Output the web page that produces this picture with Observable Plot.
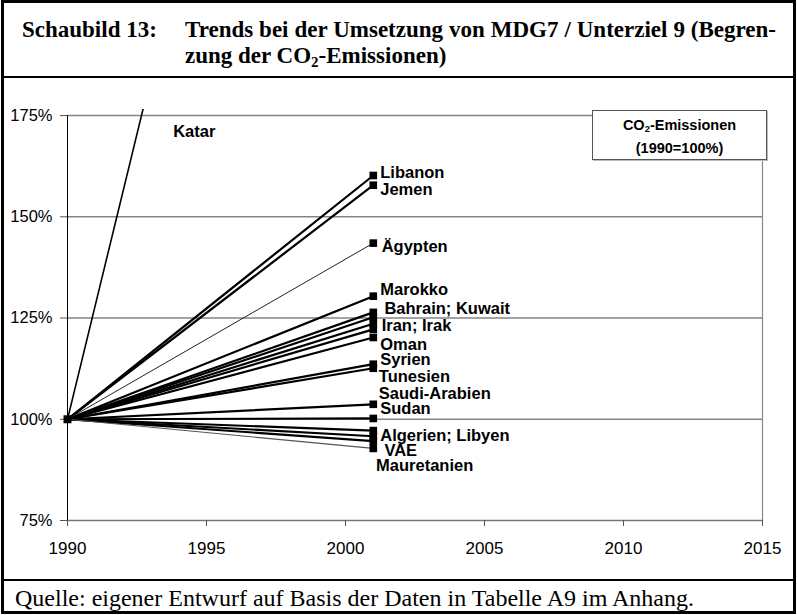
<!DOCTYPE html>
<html><head><meta charset="utf-8">
<script src="https://cdn.jsdelivr.net/npm/d3@7"></script>
<script src="https://cdn.jsdelivr.net/npm/@observablehq/plot@0.6"></script>
<style>
html,body{margin:0;padding:0;background:#fff;}
#frame{position:absolute;left:1px;top:0;width:795px;height:614px;box-sizing:border-box;border:3px solid #000;}
.sep{position:absolute;left:0;width:100%;height:0;border-top:2.5px solid #000;}
.title{position:absolute;font-family:"Liberation Serif","Times New Roman",serif;font-weight:bold;font-size:23px;line-height:23px;white-space:nowrap;color:#000;}
.just{text-align:justify;text-align-last:justify;white-space:normal;}
.foot{position:absolute;font-family:"Liberation Serif","Times New Roman",serif;font-size:24px;line-height:24px;white-space:nowrap;color:#000;}
#chart{position:absolute;left:0;top:78px;}
#legend{position:absolute;left:592px;top:110px;width:175px;height:50px;box-sizing:border-box;border:1px solid #555;background:#fff;box-shadow:1px 1px 0 #bbb;
 font-family:"Liberation Sans",Arial,sans-serif;font-weight:bold;font-size:14.5px;text-align:center;line-height:23px;padding-top:3px;}
sub{font-size:0.65em;vertical-align:-0.25em;line-height:0;}
</style></head>
<body>
<div id="chart"></div>
<div id="frame">
  <div class="title" style="left:18px;top:15px;">Schaubild 13:</div>
  <div class="title just" style="left:181px;top:15px;width:591px;">Trends bei der Umsetzung von MDG7 / Unterziel 9 (Begren-</div>
  <div class="title" style="left:181px;top:41px;">zung der CO<sub>2</sub>-Emissionen)</div>
  <div class="sep" style="top:73px;"></div>
  <div class="sep" style="top:576px;"></div>
  <div class="foot" style="left:11px;top:583px;">Quelle: eigener Entwurf auf Basis der Daten in Tabelle A9 im Anhang.</div>
</div>
<div id="legend">CO<sub>2</sub>-Emissionen<br>(1990=100%)</div>
<script>
// ---- data ----
const countries = ["Katar","Libanon","Jemen","Ägypten","Marokko","Bahrain","Kuwait","Iran","Irak","Oman","Syrien","Tunesien","Saudi-Arabien","Sudan","Algerien","Libyen","VAE","Mauretanien"];
const years = [1990, 2001];
const values1990 = [100,100,100,100,100,100,100,100,100,100,100,100,100,100,100,100,100,100];
const values2001 = [410,160.2,157.8,143.5,130.4,126.4,125.2,123.6,122.2,120.2,113.6,112.6,103.7,100.2,97.2,95.8,94.6,92.8];
const labelTexts = ["Katar","Libanon","Jemen","Ägypten","Marokko","Bahrain; Kuwait","Iran; Irak","Oman","Syrien","Tunesien","Saudi-Arabien","Sudan","Algerien; Libyen","VAE","Mauretanien"];
const labelYears = [1993.8,2001.25,2001.25,2001.3,2001.25,2001.4,2001.3,2001.25,2001.25,2001.2,2001.2,2001.25,2001.25,2001.4,2001.1];
const labelValues = [170.9,161.0,156.8,142.7,131.9,127.2,123.0,118.5,114.8,110.4,106.2,102.5,96.0,92.3,88.6];
const yTicks = [75,100,125,150,175];
const xTicks = [1990,1995,2000,2005,2010,2015];
const thinSeries = ["Ägypten","Mauretanien"];

// ---- build tables ----
const rows = [];
countries.forEach((c,i)=>{
  rows.push({country:c, year:years[0], value:values1990[i]});
  rows.push({country:c, year:years[1], value:values2001[i]});
});
const ends = rows.filter(d=>d.year===years[1] && d.country!=="Katar");
const labels = labelTexts.map((t,i)=>({text:t, x:labelYears[i], y:labelValues[i]}));

const font = "'Liberation Sans', Arial, sans-serif";
const chart = Plot.plot({
  width: 797, height: 500,
  marginLeft: 67, marginRight: 35, marginTop: 31, marginBottom: 58,
  style: {fontFamily: font, background: "transparent", overflow: "visible"},
  x: {domain: [1990, 2015]},
  y: {domain: [75, 176.5]},
  marks: [
    Plot.ruleY(yTicks.filter(d=>d>75), {stroke:"#858585", strokeWidth:1.6}),
    Plot.ruleY([75], {stroke:"#777", strokeWidth:1.4}),
    Plot.ruleX([2015], {y1:75, y2:175, stroke:"#888", strokeWidth:1.2}),
    Plot.ruleX([1990], {y1:75, y2:175, stroke:"#000", strokeWidth:1}),
    Plot.axisY({ticks: yTicks, tickFormat: d=>d+"%", tickSize: 7, tickPadding: 8, fontSize: 16.5, stroke:"#555", color:"#000"}),
    Plot.axisX({ticks: xTicks, tickFormat: d=>String(d), tickSize: 6, tickPadding: 15, fontSize: 17, stroke:"#555", color:"#000"}),
    Plot.line(rows.filter(d=>!thinSeries.includes(d.country) && d.country!=="Katar"), {x:"year", y:"value", z:"country", stroke:"#000", strokeWidth:2.2}),
    Plot.line(rows.filter(d=>d.country==="Ägypten"), {x:"year", y:"value", z:"country", stroke:"#222", strokeWidth:1}),
    Plot.line(rows.filter(d=>d.country==="Mauretanien"), {x:"year", y:"value", z:"country", stroke:"#555", strokeWidth:1.2}),
    Plot.line(rows.filter(d=>d.country==="Katar"), {x:"year", y:"value", z:"country", stroke:"#000", strokeWidth:1.6, clip:true}),
    Plot.dot(ends, {x:"year", y:"value", symbol:"square", r:4.3, fill:"#000", stroke:"none"}),
    Plot.dot([rows[0]], {x:"year", y:"value", symbol:"square", r:4.5, fill:"#000", stroke:"none"}),
    Plot.text(labels, {x:"x", y:"y", text:"text", textAnchor:"start", fontWeight:"bold", fontSize:16.5, fill:"#000", fontFamily:font})
  ]
});
document.getElementById("chart").appendChild(chart);
</script>
</body></html>
